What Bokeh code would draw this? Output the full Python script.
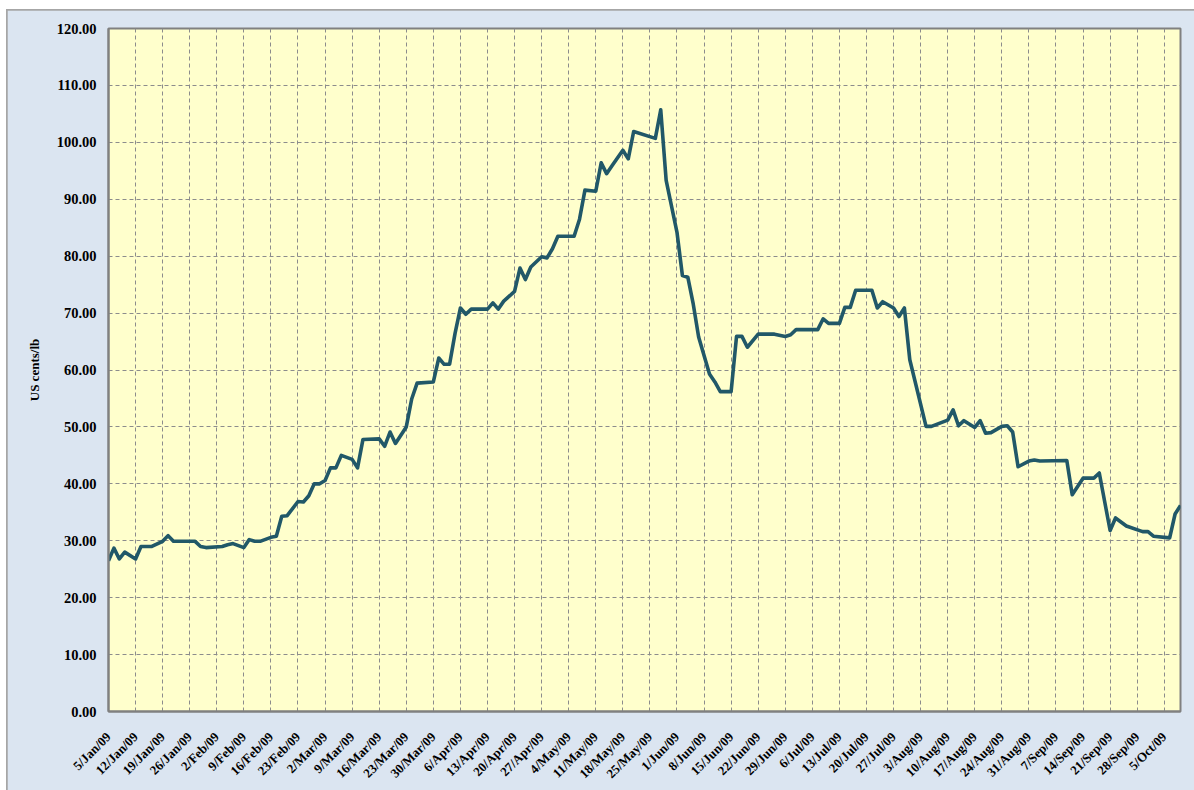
import numpy as np
from bokeh.plotting import figure
from bokeh.models import FixedTicker, Range1d, PrintfTickFormatter
from bokeh.embed import file_html
from bokeh.resources import INLINE

# trading-day number of each reading (0 = Monday 5 Jan 2009, five trading days per week)
day_index = [0, 1, 2, 3, 5, 6, 8, 10, 11, 12, 16, 17, 18, 21, 22, 23, 25, 26, 27, 28,
             30, 31, 32, 33, 35, 36, 37, 38, 39, 40, 41, 42, 43, 45, 46, 47, 50, 51, 52, 53,
             55, 56, 57, 60, 61, 62, 63, 64, 65, 66, 67, 70, 71, 72, 73, 75, 76, 77, 78, 80,
             81, 82, 83, 86, 87, 88, 90, 91, 92, 93, 95, 96, 97, 101, 102, 103, 105, 106, 107, 108,
             109, 111, 112, 113, 115, 116, 117, 118, 120, 123, 125, 126, 127, 131, 132, 133, 135, 136, 137, 138,
             141, 142, 143, 145, 146, 147, 148, 151, 152, 155, 156, 157, 158, 160, 161, 162, 163, 165, 166, 167,
             168, 170, 171, 172, 177, 178, 180, 182, 183, 185, 186, 188, 191, 192, 193, 196, 197, 198]
# price, US cents/lb
price = [26.5, 28.7, 26.8, 28.0, 26.8, 29.0, 29.0, 29.9, 30.9, 29.9, 29.9, 29.0, 28.8, 29.0, 29.3, 29.5, 28.8, 30.2, 29.9, 29.9,
         30.6, 30.8, 34.3, 34.4, 36.9, 36.8, 37.9, 40.0, 40.0, 40.6, 42.8, 42.8, 45.0, 44.3, 42.8, 47.8, 47.9, 46.6, 49.1, 47.1,
         50.0, 54.9, 57.7, 57.9, 62.1, 61.0, 61.0, 66.4, 70.9, 69.8, 70.7, 70.7, 71.8, 70.7, 72.1, 73.8, 77.9, 75.9, 78.1, 79.9,
         79.7, 81.3, 83.5, 83.5, 86.5, 91.6, 91.4, 96.4, 94.5, 95.9, 98.6, 97.1, 101.9, 100.7, 105.7, 93.3, 84.2, 76.6, 76.3, 71.6,
         65.8, 59.3, 57.9, 56.2, 56.2, 65.9, 65.9, 64.0, 66.3, 66.3, 65.9, 66.2, 67.1, 67.1, 69.0, 68.2, 68.2, 71.0, 71.0, 74.0,
         74.0, 70.9, 72.0, 70.9, 69.4, 70.9, 61.8, 50.1, 50.1, 51.2, 53.0, 50.2, 51.1, 49.9, 51.1, 48.9, 49.0, 50.1, 50.2, 49.1,
         43.0, 44.0, 44.2, 44.0, 44.1, 38.1, 41.0, 41.0, 41.9, 31.8, 34.0, 32.6, 31.6, 31.6, 30.8, 30.5, 34.7, 36.2]

week_labels = ["5/Jan/09", "12/Jan/09", "19/Jan/09", "26/Jan/09", "2/Feb/09", "9/Feb/09", "16/Feb/09",
               "23/Feb/09", "2/Mar/09", "9/Mar/09", "16/Mar/09", "23/Mar/09", "30/Mar/09", "6/Apr/09",
               "13/Apr/09", "20/Apr/09", "27/Apr/09", "4/May/09", "11/May/09", "18/May/09", "25/May/09",
               "1/Jun/09", "8/Jun/09", "15/Jun/09", "22/Jun/09", "29/Jun/09", "6/Jul/09", "13/Jul/09",
               "20/Jul/09", "27/Jul/09", "3/Aug/09", "10/Aug/09", "17/Aug/09", "24/Aug/09", "31/Aug/09",
               "7/Sep/09", "14/Sep/09", "21/Sep/09", "28/Sep/09", "5/Oct/09"]
last_day = 198
y_ticks = list(range(0, 121, 10))

week_ticks = [5 * i for i in range(len(week_labels))]

p = figure(width=1187, height=780, output_backend="svg", toolbar_location=None,
           x_range=Range1d(0, last_day), y_range=Range1d(0, 120),
           min_border_left=101, min_border_right=14, min_border_top=18, min_border_bottom=79)
p.styles = {"outline": "2px solid #a6a6a6", "outline-offset": "-1px",
            "margin-left": "7px", "margin-top": "10px"}

p.background_fill_color = "#ffffcc"
p.border_fill_color = "#dbe5f1"
p.outline_line_color = "#808080"
p.outline_line_width = 2

p.line(day_index, price, line_color="#215868", line_width=3.6, line_join="round")

font = "Liberation Serif"
p.xaxis.ticker = FixedTicker(ticks=week_ticks)
p.xaxis.major_label_overrides = {t: lab for t, lab in zip(week_ticks, week_labels)}
p.xaxis.major_label_orientation = np.pi / 4
p.yaxis.ticker = FixedTicker(ticks=y_ticks)
p.yaxis.formatter = PrintfTickFormatter(format="%.2f")
p.yaxis.axis_label = "US cents/lb"

for ax in (p.xaxis, p.yaxis):
    ax.major_label_text_font = font
    ax.major_label_text_font_style = "bold"
    ax.major_label_text_color = "#000000"
    ax.axis_line_color = "#808080"
    ax.axis_line_width = 2
    ax.major_tick_line_color = None
    ax.minor_tick_line_color = None
    ax.major_tick_out = 0
    ax.major_tick_in = 0
p.xaxis.major_label_text_font_size = "13px"
p.xaxis.major_label_standoff = 23
p.yaxis.major_label_text_font_size = "14.5px"
p.yaxis.major_label_standoff = 12
p.yaxis.axis_label_text_font = font
p.yaxis.axis_label_text_font_style = "bold"
p.yaxis.axis_label_text_font_size = "13px"
p.yaxis.axis_label_text_color = "#000000"
p.yaxis.axis_label_standoff = 12

for g in (p.xgrid, p.ygrid):
    g.grid_line_color = "#8c8c8c"
    g.grid_line_dash = "4 3"
    g.grid_line_width = 1
p.xgrid.ticker = FixedTicker(ticks=week_ticks)
p.ygrid.ticker = FixedTicker(ticks=y_ticks)

open("out.html", "w").write(file_html(p, INLINE))
